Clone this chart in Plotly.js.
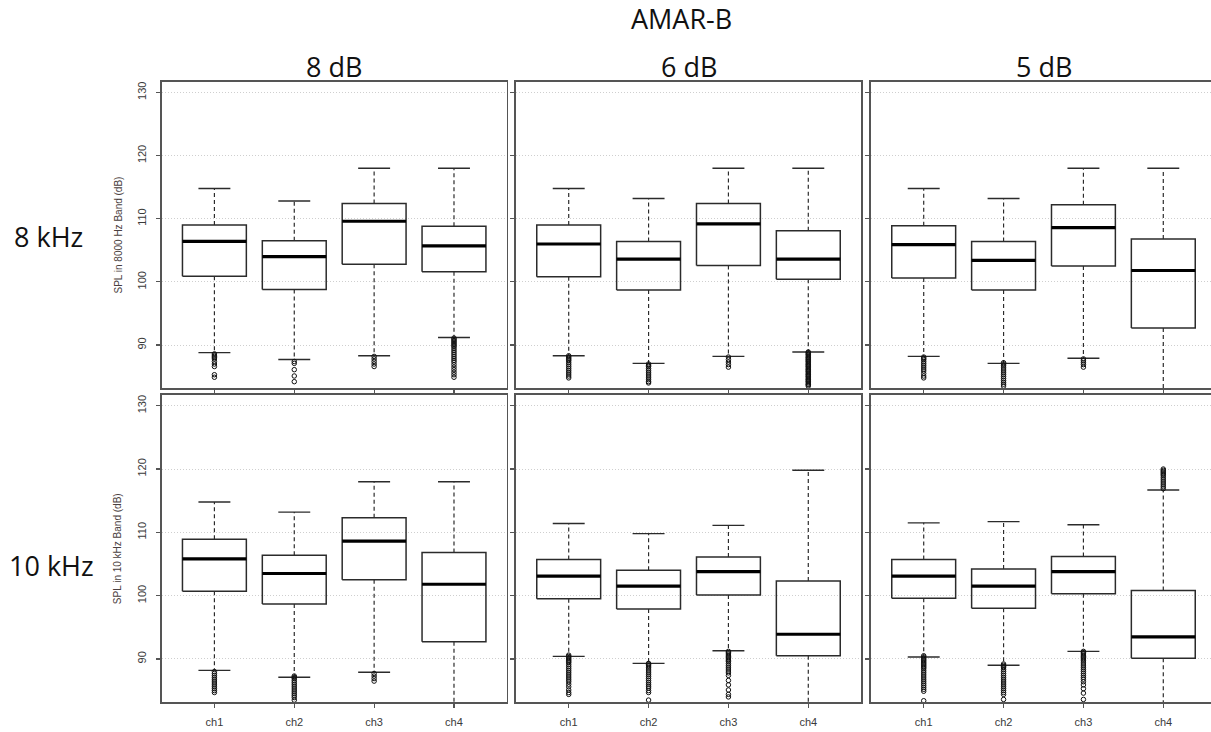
<!DOCTYPE html>
<html>
<head>
<meta charset="utf-8">
<script src="https://cdn.plot.ly/plotly-3.0.1.min.js"></script>
<style>
  html, body { margin: 0; padding: 0; background: #fff; overflow: hidden; }
  #wrap { width: 1211px; height: 732px; overflow: hidden; }
  #chart { width: 1217px; height: 732px; }
</style>
</head>
<body>
<div id="wrap"><div id="chart"></div></div>
<script>
// ---- categories and labels ----
const channels = ['ch1', 'ch2', 'ch3', 'ch4'];
const bandLabels = ['8 kHz', '10 kHz'];
const thresholdLabels = ['8 dB', '6 dB', '5 dB'];
const yTitles = ['SPL in 8000 Hz Band (dB)', 'SPL in 10 kHz Band (dB)'];
const yTicks = [90, 100, 110, 120, 130];
const recorderName = 'AMAR-B';

// ---- 8 kHz band, 8 dB ----
const lo_8k_8dB  = [88.8, 87.7, 88.3, 91.2];
const q1_8k_8dB  = [100.9, 98.8, 102.8, 101.6];
const med_8k_8dB = [106.4, 104.0, 109.6, 105.7];
const q3_8k_8dB  = [109.0, 106.5, 112.4, 108.8];
const hi_8k_8dB  = [114.8, 112.8, 118.0, 118.0];
const out_8k_8dB = [
  [88.6, 88.4, 88.2, 88.0, 87.8, 87.4, 87.0, 86.6, 85.3, 84.9],
  [87.4, 87.1, 86.1, 85.1, 84.2],
  [88.2, 87.8, 87.4, 87.0, 86.6],
  [91.1, 90.9, 90.7, 90.5, 90.3, 90.1, 89.9, 89.7, 89.4, 89.1, 88.8, 88.5, 88.2, 87.9, 87.6, 87.3, 86.9, 86.5, 86.1, 85.7, 85.3, 84.9]
];

// ---- 8 kHz band, 6 dB ----
const lo_8k_6dB  = [88.3, 87.1, 88.2, 88.9];
const q1_8k_6dB  = [100.8, 98.7, 102.6, 100.4];
const med_8k_6dB = [106.0, 103.6, 109.2, 103.6];
const q3_8k_6dB  = [109.0, 106.4, 112.4, 108.1];
const hi_8k_6dB  = [114.8, 113.2, 118.0, 118.0];
const out_8k_6dB = [
  [88.3, 88.1, 87.9, 87.7, 87.5, 87.2, 86.9, 86.6, 86.3, 86.0, 85.7, 85.4, 85.1, 84.8],
  [87.0, 86.8, 86.6, 86.3, 86.0, 85.7, 85.4, 85.1, 84.8, 84.5, 84.2, 84.0],
  [88.1, 87.7, 87.3, 86.9, 86.5],
  [88.9, 88.8, 88.6, 88.5, 88.3, 88.1, 88.0, 87.8, 87.7, 87.5, 87.4, 87.2, 87.0, 86.9, 86.7, 86.6, 86.4, 86.2,
   86.1, 85.9, 85.8, 85.6, 85.4, 85.3, 85.1, 85.0, 84.8, 84.6, 84.5, 84.3, 84.2, 84.0, 83.8, 83.7, 83.5]
];

// ---- 8 kHz band, 5 dB ----
const lo_8k_5dB  = [88.2, 87.1, 87.9, 81.5];
const q1_8k_5dB  = [100.6, 98.7, 102.5, 92.7];
const med_8k_5dB = [105.9, 103.4, 108.6, 101.8];
const q3_8k_5dB  = [108.9, 106.4, 112.2, 106.8];
const hi_8k_5dB  = [114.8, 113.2, 118.0, 118.0];
const out_8k_5dB = [
  [88.1, 87.9, 87.7, 87.4, 87.1, 86.8, 86.5, 86.2, 85.9, 85.5, 85.1, 84.8],
  [87.2, 87.0, 86.8, 86.5, 86.2, 85.9, 85.6, 85.3, 85.0, 84.7, 84.4, 84.1, 83.8, 83.5],
  [87.8, 87.5, 87.2, 86.9, 86.5],
  []
];

// ---- 10 kHz band, 8 dB ----
const lo_10k_8dB  = [88.2, 87.1, 87.9, 81.5];
const q1_10k_8dB  = [100.7, 98.7, 102.5, 92.7];
const med_10k_8dB = [105.8, 103.5, 108.6, 101.8];
const q3_10k_8dB  = [108.9, 106.4, 112.3, 106.8];
const hi_10k_8dB  = [114.8, 113.2, 118.0, 118.0];
const out_10k_8dB = [
  [88.0, 87.7, 87.4, 87.1, 86.8, 86.5, 86.2, 85.9, 85.6, 85.3, 85.0, 84.7],
  [87.3, 87.1, 86.9, 86.6, 86.3, 86.0, 85.7, 85.4, 85.1, 84.8, 84.5, 84.2, 83.9, 83.5],
  [87.7, 87.3, 86.9, 86.5],
  []
];

// ---- 10 kHz band, 6 dB ----
const lo_10k_6dB  = [90.4, 89.3, 91.3, 81.5];
const q1_10k_6dB  = [99.5, 97.9, 100.1, 90.5];
const med_10k_6dB = [103.1, 101.5, 103.8, 93.9];
const q3_10k_6dB  = [105.7, 104.0, 106.1, 102.3];
const hi_10k_6dB  = [111.4, 109.8, 111.1, 119.8];
const out_10k_6dB = [
  [90.6, 90.4, 90.2, 90.0, 89.8, 89.6, 89.4, 89.1, 88.8, 88.5, 88.2, 87.9, 87.6, 87.3, 87.0, 86.7, 86.4, 86.0, 85.6, 85.1, 84.7, 84.4],
  [89.3, 89.1, 88.9, 88.7, 88.4, 88.1, 87.8, 87.5, 87.2, 86.9, 86.6, 86.3, 86.0, 85.7, 85.4, 85.0, 84.7, 83.5],
  [91.2, 91.0, 90.8, 90.6, 90.4, 90.2, 90.0, 89.8, 89.6, 89.3, 89.0, 88.7, 88.4, 88.1, 87.8, 87.4, 86.6, 85.9, 85.1, 84.4, 84.0],
  []
];

// ---- 10 kHz band, 5 dB ----
const lo_10k_5dB  = [90.3, 89.0, 91.2, 81.5];
const q1_10k_5dB  = [99.6, 98.0, 100.3, 90.1];
const med_10k_5dB = [103.1, 101.5, 103.8, 93.5];
const q3_10k_5dB  = [105.7, 104.2, 106.2, 100.8];
const hi_10k_5dB  = [111.5, 111.7, 111.2, 116.7];
const out_10k_5dB = [
  [90.5, 90.3, 90.1, 89.9, 89.7, 89.5, 89.3, 89.1, 88.9, 88.7, 88.5, 88.2, 87.9, 87.6, 87.3, 87.0, 86.7, 86.4, 86.1, 85.8, 85.5, 85.2, 84.9, 83.4],
  [89.2, 89.0, 88.8, 88.6, 88.3, 88.0, 87.7, 87.4, 87.1, 86.8, 86.5, 86.2, 85.9, 85.6, 85.3, 85.0, 84.7, 84.4, 83.6],
  [91.2, 91.0, 90.8, 90.6, 90.4, 90.2, 90.0, 89.8, 89.5, 89.2, 88.9, 88.6, 88.3, 88.0, 87.7, 87.4, 87.1, 86.8, 86.4, 85.9, 85.3, 84.6, 83.6],
  [120.0, 119.8, 119.6, 119.4, 119.2, 119.0, 118.7, 118.4, 118.1, 117.8, 117.5, 117.2, 116.9]
];

// panel grid: rows = frequency bands, columns = detection thresholds
const panels = [
  { row: 0, col: 0, lo: lo_8k_8dB,  q1: q1_8k_8dB,  med: med_8k_8dB,  q3: q3_8k_8dB,  hi: hi_8k_8dB,  out: out_8k_8dB },
  { row: 0, col: 1, lo: lo_8k_6dB,  q1: q1_8k_6dB,  med: med_8k_6dB,  q3: q3_8k_6dB,  hi: hi_8k_6dB,  out: out_8k_6dB },
  { row: 0, col: 2, lo: lo_8k_5dB,  q1: q1_8k_5dB,  med: med_8k_5dB,  q3: q3_8k_5dB,  hi: hi_8k_5dB,  out: out_8k_5dB },
  { row: 1, col: 0, lo: lo_10k_8dB, q1: q1_10k_8dB, med: med_10k_8dB, q3: q3_10k_8dB, hi: hi_10k_8dB, out: out_10k_8dB },
  { row: 1, col: 1, lo: lo_10k_6dB, q1: q1_10k_6dB, med: med_10k_6dB, q3: q3_10k_6dB, hi: hi_10k_6dB, out: out_10k_6dB },
  { row: 1, col: 2, lo: lo_10k_5dB, q1: q1_10k_5dB, med: med_10k_5dB, q3: q3_10k_5dB, hi: hi_10k_5dB, out: out_10k_5dB }
];

// ---- geometry (pixels) ----
const W = 1217, H = 732;
const colPx = [[161.7, 506.7], [516, 861], [871, 1216]];
const rowPx = [[81.7, 388.3], [395, 702.3]];
const px = v => v / W;
const py = v => 1 - v / H;

const BOX_HALF = 0.4, CAP_HALF = 0.2;
const INK = '#2b2b2b';
const FRAME = '#555555';
const TICK_FONT = { family: 'Liberation Sans, Arial, sans-serif', size: 11, color: '#3a3a3a' };
const TITLE_FONT = { family: 'Open Sans, Noto Sans, sans-serif', size: 27, color: '#111' };

const traces = [];
const layout = {
  width: W, height: H,
  margin: { l: 0, r: 0, t: 0, b: 0 },
  paper_bgcolor: '#fff', plot_bgcolor: '#fff',
  showlegend: false,
  annotations: []
};

panels.forEach((p, i) => {
  const k = i + 1;
  const xs = k === 1 ? 'x' : 'x' + k;
  const ys = k === 1 ? 'y' : 'y' + k;
  const xName = k === 1 ? 'xaxis' : 'xaxis' + k;
  const yName = k === 1 ? 'yaxis' : 'yaxis' + k;

  const wX = [], wY = [], cX = [], cY = [], bX = [], bY = [], mX = [], mY = [], oX = [], oY = [];
  channels.forEach((ch, j) => {
    // whiskers
    wX.push(j, j, null, j, j, null);
    wY.push(p.q3[j], p.hi[j], null, p.q1[j], p.lo[j], null);
    // staples
    cX.push(j - CAP_HALF, j + CAP_HALF, null, j - CAP_HALF, j + CAP_HALF, null);
    cY.push(p.hi[j], p.hi[j], null, p.lo[j], p.lo[j], null);
    // box
    bX.push(j - BOX_HALF, j + BOX_HALF, j + BOX_HALF, j - BOX_HALF, j - BOX_HALF, null);
    bY.push(p.q1[j], p.q1[j], p.q3[j], p.q3[j], p.q1[j], null);
    // median
    mX.push(j - BOX_HALF, j + BOX_HALF, null);
    mY.push(p.med[j], p.med[j], null);
    // outliers
    p.out[j].forEach(v => { oX.push(j); oY.push(v); });
  });

  const base = { xaxis: xs, yaxis: ys, type: 'scatter', hoverinfo: 'skip' };
  traces.push(Object.assign({}, base, { x: wX, y: wY, mode: 'lines', line: { color: INK, width: 1.2, dash: '4px,3px' } }));
  traces.push(Object.assign({}, base, { x: cX, y: cY, mode: 'lines', line: { color: INK, width: 1.4 } }));
  traces.push(Object.assign({}, base, { x: bX, y: bY, mode: 'lines', line: { color: INK, width: 1.5 } }));
  traces.push(Object.assign({}, base, { x: mX, y: mY, mode: 'lines', line: { color: '#000', width: 3.2 } }));
  traces.push(Object.assign({}, base, {
    x: oX, y: oY, mode: 'markers',
    marker: { symbol: 'circle-open', size: 4.5, color: '#111', line: { width: 1, color: '#111' } }
  }));

  const cd = colPx[p.col], rd = rowPx[p.row];
  layout[xName] = {
    domain: [px(cd[0]), px(cd[1])],
    anchor: ys,
    range: [-0.66, 3.66],
    tickmode: 'array', tickvals: channels.map((c, j) => j), ticktext: channels,
    showticklabels: p.row === 1,
    tickfont: TICK_FONT,
    ticks: 'outside', ticklen: 4, tickwidth: 1.2, tickcolor: FRAME,
    ticklabelstandoff: 5,
    showline: true, mirror: true, linecolor: FRAME, linewidth: 1.6,
    showgrid: false, zeroline: false, fixedrange: true
  };
  layout[yName] = {
    domain: [py(rd[1]), py(rd[0])],
    anchor: xs,
    range: [83.15, 131.7],
    tickmode: 'array', tickvals: yTicks, ticktext: yTicks.map(String),
    showticklabels: p.col === 0,
    tickangle: -90,
    tickfont: TICK_FONT,
    ticks: 'outside', ticklen: 4, tickwidth: 1.2, tickcolor: FRAME,
    ticklabelstandoff: 6,
    showline: true, mirror: true, linecolor: FRAME, linewidth: 1.6,
    showgrid: true, gridcolor: '#cfcfcf', gridwidth: 1, griddash: '1px,2px',
    zeroline: false, fixedrange: true
  };
});

// overall title
layout.annotations.push({
  text: recorderName, xref: 'paper', yref: 'paper',
  x: px(681), y: py(18), xanchor: 'center', yanchor: 'middle',
  showarrow: false, font: TITLE_FONT
});
// column headers
thresholdLabels.forEach((t, c) => {
  layout.annotations.push({
    text: t, xref: 'paper', yref: 'paper',
    x: px((colPx[c][0] + colPx[c][1]) / 2), y: py(66.5), xanchor: 'center', yanchor: 'middle',
    showarrow: false, font: TITLE_FONT
  });
});
// row labels
const rowLabelX = [48.5, 51];
const rowLabelY = [237, 565];
bandLabels.forEach((t, r) => {
  layout.annotations.push({
    text: t, xref: 'paper', yref: 'paper',
    x: px(rowLabelX[r]), y: py(rowLabelY[r]), xanchor: 'center', yanchor: 'middle',
    showarrow: false, font: TITLE_FONT
  });
});
// y-axis titles
yTitles.forEach((t, r) => {
  layout.annotations.push({
    text: t, xref: 'paper', yref: 'paper',
    x: px(117.5), y: py((rowPx[r][0] + rowPx[r][1]) / 2), xanchor: 'center', yanchor: 'middle',
    textangle: -90, showarrow: false,
    font: { family: 'Liberation Sans, Arial, sans-serif', size: 10, color: '#4a4040' }
  });
});

Plotly.newPlot('chart', traces, layout, { displayModeBar: false, staticPlot: true });
</script>
</body>
</html>
